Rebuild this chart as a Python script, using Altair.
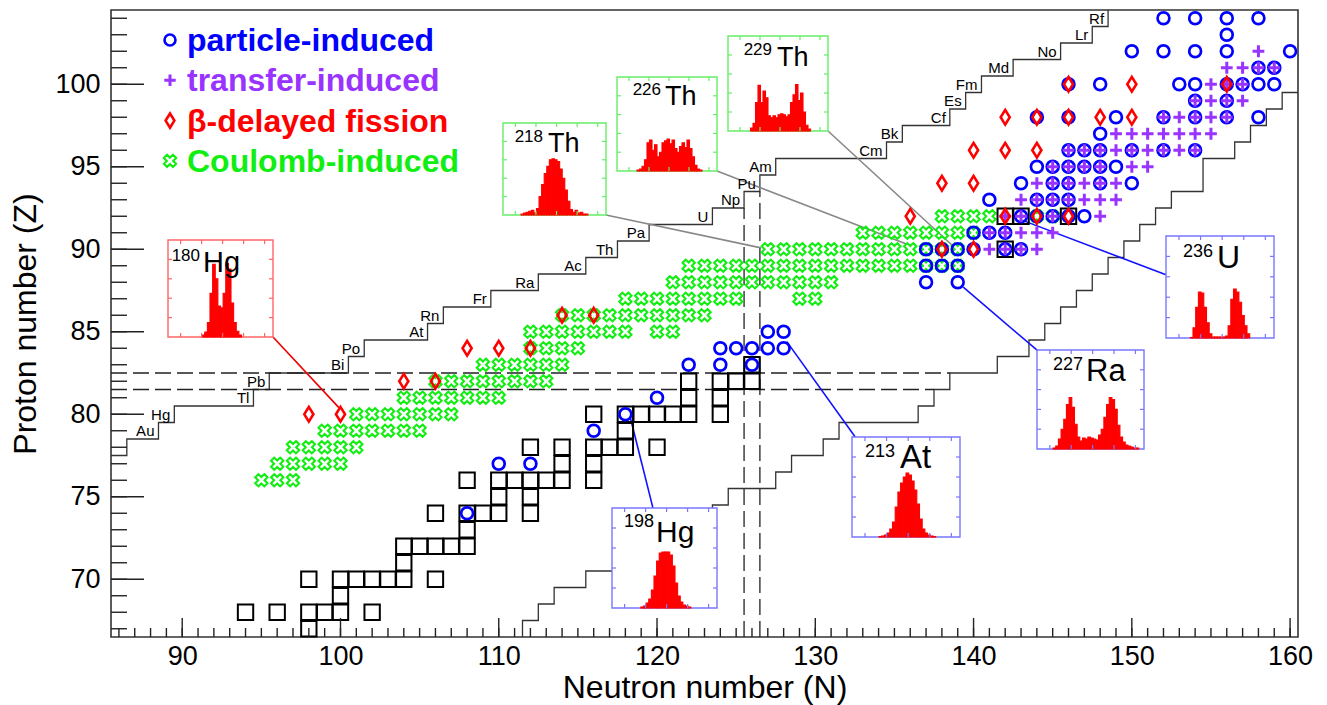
import altair as alt
import pandas as pd

FONT = "Liberation Sans"

# plot area geometry in pixels
W, H = 1187, 627
PAD = {"left": 111, "top": 10, "right": 29, "bottom": 68}
N_MIN, N_MAX = 85.5, 160.5
Z_MIN, Z_MAX = 66.5, 104.5

# ---------------------------------------------------------------- nuclides
# proton number Z -> neutron numbers N
stable_nuclei = {
    67: [98],
    68: [94, 96, 98, 99, 100, 102],
    69: [100],
    70: [98, 100, 101, 102, 103, 104, 106],
    71: [104],
    72: [104, 105, 106, 107, 108],
    73: [108],
    74: [106, 108, 109, 110, 112],
    75: [110, 112],
    76: [108, 110, 111, 112, 113, 114, 116],
    77: [114, 116],
    78: [112, 114, 116, 117, 118, 120],
    79: [118],
    80: [116, 118, 119, 120, 121, 122, 124],
    81: [122, 124],
    82: [122, 124, 125, 126],
    83: [126],
    90: [142],
    92: [142, 143, 146],
}

coulomb_induced = {
    76: [95, 96, 97],
    77: [96, 97, 98, 99, 100],
    78: [97, 98, 99, 100, 101],
    79: [99, 100, 101, 102, 103, 104, 105],
    80: [101, 102, 103, 104, 105, 106, 107],
    81: [104, 105, 106, 107, 108, 109, 110],
    82: [106, 107, 108, 109, 110, 111, 112, 113],
    83: [109, 110, 111, 112, 113, 114],
    84: [112, 113, 114, 115],
    85: [112, 113, 114, 115, 116, 117, 118, 120, 121],
    86: [114, 115, 116, 117, 118, 119, 120, 121, 122, 123],
    87: [118, 119, 120, 121, 122, 123, 124, 125, 129, 130],
    88: [121, 122, 123, 124, 125, 126, 127, 128, 129, 130, 131],
    89: [122, 123, 124, 125, 126, 127, 128, 129, 130, 131, 132, 133, 134,
         135, 136, 137, 138, 139],
    90: [127, 128, 129, 130, 131, 132, 133, 134, 135, 136, 137, 138, 139],
    91: [133, 134, 135, 136, 137, 138, 139, 140],
    92: [138, 139, 140, 141, 144, 145],
}

particle_induced = {
    74: [108],
    77: [110, 112],
    79: [116],
    80: [118],
    81: [120],
    83: [122, 124, 126],
    84: [124, 125, 126, 127, 128],
    85: [127, 128],
    88: [137, 139],
    89: [137, 138, 139],
    90: [137, 138, 139, 140, 142, 143],
    91: [140, 141, 142],
    92: [143, 144, 145, 146, 147],
    93: [141, 144, 145, 146],
    94: [143, 145, 146, 148, 150],
    95: [144, 145, 146, 147, 148, 149],
    96: [146, 147, 148, 150, 152, 154],
    97: [148],
    98: [144, 146, 149, 152, 154, 156, 158],
    99: [154, 156],
    100: [146, 148, 153, 154, 156, 157, 158, 159],
    101: [158, 159],
    102: [150, 152, 154, 156, 160],
    103: [156],
    104: [152, 154, 156, 158],
}

transfer_induced = {
    90: [141, 142, 143, 144],
    91: [141, 142, 143, 144, 145],
    92: [142, 143, 145, 148],
    93: [143, 144, 145, 146, 147, 148, 149],
    94: [144, 145, 146, 147, 148, 149],
    95: [145, 146, 147, 148, 150, 151],
    96: [146, 147, 148, 149, 150, 151, 152, 153, 154],
    97: [149, 150, 151, 152, 153, 154, 155],
    98: [152, 153, 154, 155, 156],
    99: [154, 155, 156, 157],
    100: [155, 156, 157],
    101: [156, 157, 158, 159],
    102: [158],
}

beta_delayed = {
    80: [98, 100],
    82: [104, 106],
    84: [108, 110, 112],
    86: [114, 116],
    90: [138, 140],
    92: [136, 142, 144, 146],
    94: [138, 140],
    96: [140, 142, 144],
    98: [142, 144, 146, 148, 150],
    100: [146, 150, 156],
}

# ------------------------------------------------ limits of known nuclei
# neutron-deficient side: left edge of each Z row
light_z = [78, 79, 80, 81, 82, 83, 84, 85, 86, 87, 88, 89, 90, 91, 92, 93,
           94, 95, 96, 97, 98, 99, 100, 101, 102, 103, 104]
light_n = [86.5, 88.5, 89.5, 94.5, 95.5, 100.5, 101.5, 105.5, 106.5, 109.5,
           112.5, 115.5, 117.5, 119.5, 123.5, 125.5, 126.5, 127.5, 134.5,
           135.5, 138.5, 139.5, 140.5, 142.5, 145.5, 147.5, 148.5]
symbols = ["Pt", "Au", "Hg", "Tl", "Pb", "Bi", "Po", "At", "Rn", "Fr", "Ra",
           "Ac", "Th", "Pa", "U", "Np", "Pu", "Am", "Cm", "Bk", "Cf", "Es",
           "Fm", "Md", "No", "Lr", "Rf"]
labelled_from = 79

# neutron-rich side: right edge of each Z row
heavy_z = [67, 68, 69, 70, 71, 72, 73, 74, 75, 76, 77, 78, 79, 80, 81, 82,
           83, 84, 85, 86, 87, 88, 89, 90, 91, 92, 93, 94, 95, 96, 97, 98, 99]
heavy_n = [111.5, 112.5, 113.5, 115.5, 117.5, 119.5, 121.5, 123.5, 124.5,
           127.5, 128.5, 130.5, 131.5, 136.5, 137.5, 138.5, 141.5, 143.5,
           144.5, 145.5, 146.5, 147.5, 148.5, 149.5, 150.5, 151.5, 152.5,
           154.5, 154.5, 156.5, 157.5, 158.5, 159.5]

# shell closures Z = 82 and N = 126, drawn as pairs of dashed lines
shell_n1 = [N_MIN, N_MIN, 125.5, 126.5]
shell_z1 = [81.5, 82.5, Z_MIN, Z_MIN]
shell_n2 = [137.5, 138.5, 125.5, 126.5]
shell_z2 = [81.5, 82.5, 92.5, 93.5]

legend_labels = ["particle-induced", "transfer-induced", "\u03b2-delayed fission",
                 "Coulomb-induced"]

# ------------------------------------------------ fission-fragment insets
inset_mass = ["180", "218", "226", "229", "198", "213", "227", "236"]
inset_elem = ["Hg", "Th", "Th", "Th", "Hg", "At", "Ra", "U"]
# nuclide each inset points to (N, Z of the line end)
inset_target_n = [99.9, 126.5, 135.8, 138.75, 118.3, 128.2, 139.35, 143.1]
inset_target_z = [80.4, 90.1, 90.3, 90.15, 79.85, 84.4, 87.7, 91.75]

hist_180Hg = [0, 0, 0, 0, 0, 0, 0, 0, 0, 0, 0, 0, 0, 0.02, 0.05, 0.15, 0.45,
              0.75, 0.6, 0.32, 0.3, 0.45, 0.76, 0.7, 0.35, 0.15, 0.06, 0.02,
              0, 0, 0, 0, 0, 0, 0, 0, 0, 0, 0, 0]
hist_218Th = [0, 0, 0, 0, 0, 0, 0, 0.01, 0.02, 0.03, 0.04, 0.05, 0.02, 0.07,
              0.2, 0.33, 0.45, 0.53, 0.6, 0.61, 0.6, 0.58, 0.5, 0.4, 0.27,
              0.15, 0.06, 0.03, 0.05, 0.02, 0.03, 0.01, 0.01, 0, 0, 0, 0, 0,
              0, 0]
hist_226Th = [0, 0, 0, 0, 0, 0, 0, 0, 0.01, 0.02, 0.05, 0.12, 0.3, 0.33,
              0.22, 0.28, 0.15, 0.2, 0.3, 0.32, 0.34, 0.29, 0.33, 0.24, 0.2,
              0.26, 0.3, 0.25, 0.33, 0.24, 0.15, 0.06, 0.02, 0.01, 0, 0, 0, 0,
              0, 0]
hist_229Th = [0, 0, 0, 0, 0, 0, 0, 0, 0, 0.03, 0.08, 0.3, 0.48, 0.3, 0.42,
              0.35, 0.16, 0.14, 0.16, 0.14, 0.17, 0.18, 0.17, 0.15, 0.17, 0.3,
              0.38, 0.49, 0.32, 0.4, 0.2, 0.06, 0.02, 0, 0, 0, 0, 0, 0, 0]
hist_198Hg = [0, 0, 0, 0, 0, 0, 0, 0, 0, 0, 0, 0.01, 0.02, 0.05, 0.09, 0.18,
              0.32, 0.47, 0.55, 0.56, 0.56, 0.56, 0.53, 0.42, 0.25, 0.12,
              0.06, 0.03, 0.02, 0.01, 0, 0, 0, 0, 0, 0, 0, 0, 0, 0]
hist_213At = [0, 0, 0, 0, 0, 0, 0, 0, 0, 0, 0.005, 0.01, 0.02, 0.04, 0.08,
              0.15, 0.3, 0.45, 0.54, 0.6, 0.64, 0.62, 0.56, 0.47, 0.33, 0.18,
              0.08, 0.04, 0.02, 0.01, 0.005, 0, 0, 0, 0, 0, 0, 0, 0, 0]
hist_227Ra = [0, 0, 0, 0, 0, 0, 0.01, 0.03, 0.1, 0.2, 0.3, 0.45, 0.52, 0.42,
              0.25, 0.12, 0.08, 0.11, 0.1, 0.12, 0.11, 0.1, 0.09, 0.14, 0.2,
              0.32, 0.45, 0.52, 0.5, 0.4, 0.24, 0.12, 0.07, 0.04, 0.03, 0.02,
              0.01, 0.01, 0, 0]
hist_236U = [0, 0, 0, 0, 0, 0, 0, 0, 0, 0.005, 0.1, 0.3, 0.45, 0.44, 0.3,
             0.15, 0.04, 0.01, 0.01, 0.01, 0.01, 0.01, 0.02, 0.12, 0.38, 0.48,
             0.45, 0.35, 0.22, 0.12, 0.04, 0, 0, 0, 0, 0, 0, 0, 0, 0]
inset_hist = [hist_180Hg, hist_218Th, hist_226Th, hist_229Th, hist_198Hg,
              hist_213At, hist_227Ra, hist_236U]

# inset frames (plot-area pixels: left, right, top, bottom), colours, fonts
inset_box = [(57, 162, 230, 327), (392, 495, 113, 205), (506, 606, 67, 161),
             (617, 717, 26, 121), (501, 606, 498, 598), (741, 849, 427, 527),
             (926, 1033, 340, 439), (1055, 1163, 226, 328)]
inset_frame = ["#ff6666", "#66ee66", "#66ee66", "#66ee66", "#7777ff",
               "#7777ff", "#7777ff", "#7777ff"]
inset_link = ["#ee0000", "#888888", "#888888", "#888888", "#1111ff",
              "#1111ff", "#1111ff", "#1111ff"]
# where the connecting line leaves the frame (fractions of width / height)
inset_anchor = [(1.0, 0.0), (1.0, 0.0), (1.0, 0.0), (1.0, 0.0), (0.39, 1.0),
                (0.03, 1.0), (0.02, 0.98), (0.0, 0.62)]
# font sizes (mass number, symbol) and text offsets inside each frame
inset_font = [(17, 29), (17, 27), (17, 27), (17, 27), (18, 30), (18, 33),
              (18, 31), (18, 32)]
inset_text_pos = [(32, 35, 21, 32), (40, 45, 19, 29), (44, 48, 18, 28),
                  (44, 49, 19, 30), (42, 44, 19, 34), (43, 48, 20, 31),
                  (46, 49, 20, 31), (47, 51, 21, 32)]

# ----------------------------------------------------------- helpers
def pairs(rows):
    return pd.DataFrame([{"N": n, "Z": z} for z, ns in rows.items() for n in ns])


def to_data(px, py):
    return (N_MIN + px / W * (N_MAX - N_MIN), Z_MAX - py / H * (Z_MAX - Z_MIN))


xs = alt.Scale(domain=[N_MIN, N_MAX], nice=False, zero=False)
ys = alt.Scale(domain=[Z_MIN, Z_MAX], nice=False, zero=False)

x_axis = alt.Axis(values=[90, 100, 110, 120, 130, 140, 150, 160], ticks=False,
                  tickSize=0, domain=False, grid=False, labelFont=FONT,
                  labelFontSize=27, labelColor="black", labelPadding=6,
                  title="Neutron number (N)", titleFont=FONT, titleFontSize=32,
                  titleFontWeight="normal", titleColor="black",
                  titleBaseline="alphabetic", titleY=60)
y_axis = alt.Axis(values=[70, 75, 80, 85, 90, 95, 100], ticks=False,
                  tickSize=0, domain=False, grid=False, labelFont=FONT,
                  labelFontSize=27, labelColor="black", labelPadding=11,
                  title="Proton number (Z)", titleFont=FONT, titleFontSize=32,
                  titleFontWeight="normal", titleColor="black",
                  titleBaseline="middle", titleX=-86)


def X(f):
    return alt.X(f, type="quantitative", scale=xs, axis=x_axis)


def Y(f):
    return alt.Y(f, type="quantitative", scale=ys, axis=y_axis)


# ----------------------------------------------------------- main panel
def staircase(zs, ns, first, last):
    pts = [first]
    for z, n in zip(zs, ns):
        pts += [(n, z - 0.5), (n, z + 0.5)]
    if last is not None:
        pts.append(last)
    return pd.DataFrame([{"N": p[0], "Z": p[1], "k": i} for i, p in enumerate(pts)])


upper = staircase(light_z, light_n, (N_MIN, light_z[0] - 0.5), None)
lower = staircase(heavy_z, heavy_n, (heavy_n[0], Z_MIN), (N_MAX, heavy_z[-1] + 0.5))

layers = []
for df in (upper, lower):
    layers.append(alt.Chart(df).mark_line(color="#333333", strokeWidth=1.3, clip=True)
                  .encode(x=X("N"), y=Y("Z"), order="k:Q"))

shells = pd.DataFrame({"N": shell_n1, "Z": shell_z1, "N2": shell_n2, "Z2": shell_z2})
layers.append(alt.Chart(shells).mark_rule(color="#222222", strokeWidth=1.3,
                                          strokeDash=[16, 6])
              .encode(x=X("N"), y=Y("Z"), x2="N2:Q", y2="Z2:Q"))

# lines from the insets to their nuclides
links = []
for i in range(len(inset_mass)):
    l, r, t, b = inset_box[i]
    fx, fy = inset_anchor[i]
    n0, z0 = to_data(l + fx * (r - l), b - fy * (b - t))
    links.append({"N": inset_target_n[i], "Z": inset_target_z[i], "N2": n0,
                  "Z2": z0, "c": inset_link[i]})
layers.append(alt.Chart(pd.DataFrame(links)).mark_rule(strokeWidth=1.6)
              .encode(x=X("N"), y=Y("Z"), x2="N2:Q", y2="Z2:Q",
                      color=alt.Color("c:N", scale=None)))

PLUS = "M-1,0L1,0M0,-1L0,1"
DIAMOND = "M0,-1L0.62,0L0,1L-0.62,0Z"
XCROSS = ("M0.46,-0.955L0.955,-0.46L0.495,0L0.955,0.46L0.46,0.955L0,0.495"
          "L-0.46,0.955L-0.955,0.46L-0.495,0L-0.955,-0.46L-0.46,-0.955L0,-0.495Z")

GREEN, BLUE, PURPLE, RED = "#11ee11", "#0000ff", "#9933ff", "#ff0000"

marker_styles = [
    (coulomb_induced, XCROSS, GREEN, 165, 2.1),
    (stable_nuclei, "square", "black", 236, 2.0),
    (particle_induced, "circle", BLUE, 140, 2.7),
    (transfer_induced, PLUS, PURPLE, 140, 3.0),
    (beta_delayed, DIAMOND, RED, 215, 2.6),
]
for rows, shape, col, size, sw in marker_styles:
    layers.append(alt.Chart(pairs(rows)).mark_point(shape=shape, filled=False,
                                                    color=col, size=size,
                                                    strokeWidth=sw, opacity=1)
                  .encode(x=X("N"), y=Y("Z")))

# element names along the neutron-deficient border
names = pd.DataFrame([{"N": n, "Z": z - 0.5, "s": s}
                      for z, n, s in zip(light_z, light_n, symbols)
                      if z >= labelled_from])
layers.append(alt.Chart(names).mark_text(font=FONT, fontSize=15, align="right",
                                         baseline="alphabetic", dx=-4, dy=-3,
                                         color="black")
              .encode(x=X("N"), y=Y("Z"), text="s:N"))

# inward ticks on the bottom and left axes
tick_sets = [
    (pd.DataFrame({"N": list(range(86, 161))}), 9, "x"),
    (pd.DataFrame({"N": [90, 100, 110, 120, 130, 140, 150, 160]}), 19, "x"),
    (pd.DataFrame({"Z": list(range(67, 105))}), 16, "y"),
    (pd.DataFrame({"Z": [70, 75, 80, 85, 90, 95, 100]}), 33, "y"),
]
for df, ln, ax in tick_sets:
    if ax == "x":
        enc = dict(x=X("N"), y=alt.value(H), y2=alt.value(H - ln))
    else:
        enc = dict(y=Y("Z"), x=alt.value(0), x2=alt.value(ln))
    layers.append(alt.Chart(df).mark_rule(color="#222222", strokeWidth=1.4).encode(**enc))

# legend
one = pd.DataFrame({"a": [0]})
leg_shapes = [("circle", BLUE, 120, 2.6), (PLUS, PURPLE, 130, 3.0),
              (DIAMOND, RED, 200, 2.6), (XCROSS, GREEN, 165, 2.1)]
leg_colors = [BLUE, PURPLE, RED, GREEN]
for k, (label, (shape, col, size, sw)) in enumerate(zip(legend_labels, leg_shapes)):
    yy = 30 + 40.3 * k
    layers.append(alt.Chart(one).mark_point(shape=shape, filled=False, color=col,
                                            size=size, strokeWidth=sw, opacity=1)
                  .encode(x=alt.value(59), y=alt.value(yy)))
    layers.append(alt.Chart(one).mark_text(text=label, font=FONT, fontSize=32,
                                           fontWeight="bold", color=leg_colors[k],
                                           align="left", baseline="middle")
                  .encode(x=alt.value(76), y=alt.value(yy + 1)))

main = alt.layer(*layers)

# ----------------------------------------------------------- insets
TICK_FX = [0.12, 0.32, 0.52, 0.72, 0.92]
TICK_FY = [0.2, 0.4, 0.6, 0.8]
insets = []
for i in range(len(inset_mass)):
    l, r, t, b = inset_box[i]
    sx = alt.Scale(domain=[0, 1], range=[l, r], nice=False, zero=False)
    sy = alt.Scale(domain=[0, 1], range=[b, t], nice=False, zero=False)
    IX = lambda f: alt.X(f, type="quantitative", scale=sx, axis=None)
    IY = lambda f: alt.Y(f, type="quantitative", scale=sy, axis=None)
    frame = inset_frame[i]

    box = alt.Chart(pd.DataFrame({"a": [0], "b": [1]})).mark_rect(
        fill="white", stroke=frame, strokeWidth=1.4).encode(
        x=IX("a"), x2="b:Q", y=IY("a"), y2="b:Q")

    h = inset_hist[i]
    nb = len(h)
    bars = pd.DataFrame([{"lo": j / nb, "hi": (j + 1) / nb, "h": v, "base": 0}
                         for j, v in enumerate(h) if v > 0])
    hist = alt.Chart(bars).mark_rect(color="#ff0000", stroke="#ff0000",
                                     strokeWidth=1.1).encode(
        x=IX("lo"), x2="hi:Q", y=IY("h"), y2="base:Q")

    tx = 4.0 / (r - l)
    ty = 4.0 / (b - t)
    vt = pd.DataFrame([{"x": f, "y": e, "y2": e + s * ty}
                       for f in TICK_FX for e, s in ((0, 1), (1, -1))])
    ht = pd.DataFrame([{"y": f, "x": e, "x2": e + s * tx}
                       for f in TICK_FY for e, s in ((0, 1), (1, -1))])
    vticks = alt.Chart(vt).mark_rule(color=frame, strokeWidth=1.2).encode(
        x=IX("x"), y=IY("y"), y2="y2:Q")
    hticks = alt.Chart(ht).mark_rule(color=frame, strokeWidth=1.2).encode(
        y=IY("y"), x=IX("x"), x2="x2:Q")

    fm, fe = inset_font[i]
    mdx, edx, mdy, edy = inset_text_pos[i]
    mass = alt.Chart(one).mark_text(text=inset_mass[i], font=FONT, fontSize=fm,
                                    align="right", baseline="alphabetic",
                                    color="black").encode(
        x=alt.value(l + mdx), y=alt.value(t + mdy))
    elem = alt.Chart(one).mark_text(text=inset_elem[i], font=FONT, fontSize=fe,
                                    align="left", baseline="alphabetic",
                                    color="black").encode(
        x=alt.value(l + edx), y=alt.value(t + edy))
    insets.append(alt.layer(box, hist, vticks, hticks, mass, elem))

chart = (alt.layer(main, *insets)
         .resolve_scale(x="independent", y="independent")
         .properties(width=W, height=H, padding=PAD,
                     autosize=alt.AutoSizeParams(type="none"),
                     background="white")
         .configure_view(stroke="#333333", strokeWidth=1.6))

chart.save("out.html", embed_options={"renderer": "svg", "actions": False})
